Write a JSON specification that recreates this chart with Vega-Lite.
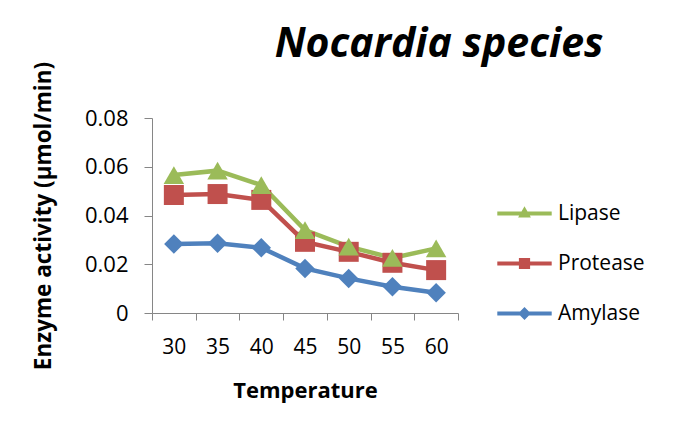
{
  "$schema": "https://vega.github.io/schema/vega-lite/v6.json",
  "autosize": {"type": "none"},
  "width": 306,
  "height": 195,
  "padding": {"left": 152, "top": 118, "right": 215, "bottom": 120},
  "background": "white",
  "title": {
    "text": "Nocardia species",
    "font": "Open Sans",
    "fontSize": 41,
    "fontStyle": "italic",
    "fontWeight": "bold",
    "color": "#000000",
    "anchor": "middle",
    "dx": 134,
    "dy": 19,
    "offset": 14
  },
  "data": {
    "values": [
      {"temp": 30, "enzyme": "Amylase", "value": 0.0283},
      {"temp": 35, "enzyme": "Amylase", "value": 0.0286},
      {"temp": 40, "enzyme": "Amylase", "value": 0.0268},
      {"temp": 45, "enzyme": "Amylase", "value": 0.0183},
      {"temp": 50, "enzyme": "Amylase", "value": 0.0142},
      {"temp": 55, "enzyme": "Amylase", "value": 0.0108},
      {"temp": 60, "enzyme": "Amylase", "value": 0.0083},
      {"temp": 30, "enzyme": "Protease", "value": 0.0484},
      {"temp": 35, "enzyme": "Protease", "value": 0.0488},
      {"temp": 40, "enzyme": "Protease", "value": 0.0464},
      {"temp": 45, "enzyme": "Protease", "value": 0.0292},
      {"temp": 50, "enzyme": "Protease", "value": 0.0251},
      {"temp": 55, "enzyme": "Protease", "value": 0.0206},
      {"temp": 60, "enzyme": "Protease", "value": 0.0176},
      {"temp": 30, "enzyme": "Lipase", "value": 0.0566},
      {"temp": 35, "enzyme": "Lipase", "value": 0.0584},
      {"temp": 40, "enzyme": "Lipase", "value": 0.0525},
      {"temp": 45, "enzyme": "Lipase", "value": 0.034},
      {"temp": 50, "enzyme": "Lipase", "value": 0.0272},
      {"temp": 55, "enzyme": "Lipase", "value": 0.0226},
      {"temp": 60, "enzyme": "Lipase", "value": 0.0265}
    ]
  },
  "encoding": {
    "x": {
      "field": "temp",
      "type": "ordinal",
      "scale": {"paddingInner": 0, "paddingOuter": 0},
      "axis": {
        "title": "Temperature",
        "labelAngle": 0,
        "tickBand": "extent",
        "tickSize": 7,
        "labelPadding": 16,
        "titlePadding": 23,
        "domainColor": "#868686",
        "tickColor": "#868686",
        "labelFont": "Open Sans",
        "labelFontSize": 21,
        "labelColor": "#000000",
        "titleFont": "Open Sans",
        "titleFontSize": 22,
        "titleFontWeight": "bold",
        "titleColor": "#000000",
        "grid": false
      }
    },
    "y": {
      "field": "value",
      "type": "quantitative",
      "scale": {"domain": [0, 0.08], "nice": false},
      "axis": {
        "title": "Enzyme activity (µmol/min)",
        "values": [0, 0.02, 0.04, 0.06, 0.08],
        "labelExpr": "datum.value == 0 ? '0' : format(datum.value, '.2f')",
        "tickSize": 8,
        "labelPadding": 16,
        "titlePadding": 29,
        "domainColor": "#868686",
        "tickColor": "#868686",
        "labelFont": "Open Sans",
        "labelFontSize": 22,
        "labelColor": "#000000",
        "titleFont": "Open Sans",
        "titleFontSize": 22.5,
        "titleFontWeight": "bold",
        "titleColor": "#000000",
        "grid": false
      }
    }
  },
  "layer": [
    {
      "mark": {"type": "line", "strokeWidth": 4.5},
      "encoding": {
        "color": {
          "field": "enzyme",
          "type": "nominal",
          "scale": {"domain": ["Lipase", "Protease", "Amylase"], "range": ["#9BBB59", "#C0504D", "#4F81BD"]},
          "legend": null
        }
      }
    },
    {
      "mark": {"type": "point", "filled": true, "opacity": 1},
      "encoding": {
        "color": {
          "field": "enzyme",
          "type": "nominal",
          "scale": {"domain": ["Lipase", "Protease", "Amylase"], "range": ["#9BBB59", "#C0504D", "#4F81BD"]},
          "legend": null
        },
        "shape": {
          "field": "enzyme",
          "type": "nominal",
          "scale": {"domain": ["Lipase", "Protease", "Amylase"], "range": ["triangle-up", "square", "diamond"]},
          "legend": null
        },
        "size": {
          "field": "enzyme",
          "type": "nominal",
          "scale": {"domain": ["Lipase", "Protease", "Amylase"], "range": [420, 380, 420]},
          "legend": null
        }
      }
    },
    {
      "transform": [{"filter": "datum.value < 0"}],
      "mark": {"type": "point", "filled": true, "opacity": 1, "size": 256, "strokeWidth": 0},
      "encoding": {
        "color": {
          "field": "enzyme",
          "type": "nominal",
          "scale": {"domain": ["Lipase", "Protease", "Amylase"], "range": ["#9BBB59", "#C0504D", "#4F81BD"]},
          "legend": {
            "title": null,
            "orient": "none",
            "legendX": 362,
            "legendY": 85,
            "symbolSize": 256,
            "symbolStrokeWidth": 0,
            "labelFont": "Open Sans",
            "labelFontSize": 21,
            "labelColor": "#000000",
            "labelOffset": 23,
            "rowPadding": 28
          }
        },
        "shape": {
          "field": "enzyme",
          "type": "nominal",
          "scale": {
            "domain": ["Lipase", "Protease", "Amylase"],
            "range": [
              "M-3.4,-0.25H3.4V0.25H-3.4Z M0,-0.9L0.8,0.5L-0.8,0.5Z",
              "M-3.4,-0.25H3.4V0.25H-3.4Z M-0.7,-0.7H0.7V0.7H-0.7Z",
              "M-3.4,-0.25H3.4V0.25H-3.4Z M0,-0.8L0.8,0L0,0.8L-0.8,0Z"
            ]
          },
          "legend": {
            "title": null,
            "orient": "none",
            "legendX": 362,
            "legendY": 85,
            "symbolSize": 256,
            "symbolStrokeWidth": 0,
            "labelFont": "Open Sans",
            "labelFontSize": 21,
            "labelColor": "#000000",
            "labelOffset": 23,
            "rowPadding": 28
          }
        }
      }
    }
  ],
  "resolve": {"scale": {"color": "independent", "shape": "independent", "size": "independent"}},
  "config": {
    "view": {"stroke": null},
    "font": "Open Sans"
  }
}
